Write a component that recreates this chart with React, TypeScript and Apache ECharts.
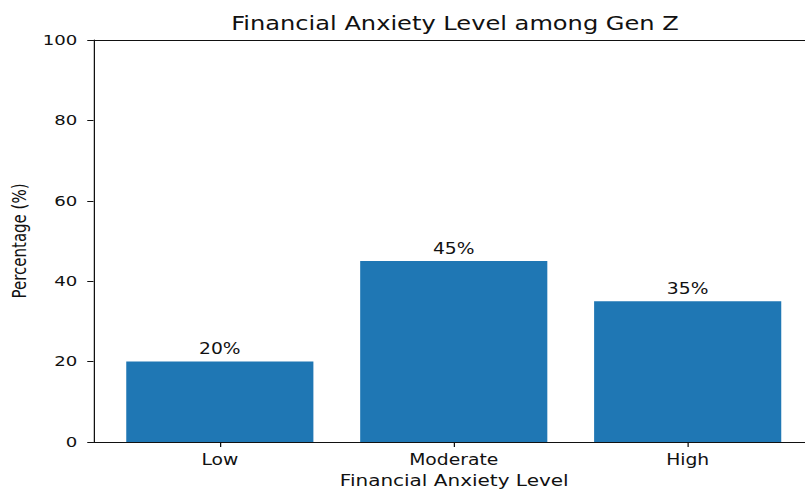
import React, { useEffect, useRef } from "react";
import * as echarts from "echarts";

const categories = ["Low", "Moderate", "High"];
const percentages = [20, 45, 35];
const yTicks = [0, 20, 40, 60, 80, 100];

const titleText = "Financial Anxiety Level among Gen Z";
const xAxisTitle = "Financial Anxiety Level";
const yAxisTitle = "Percentage (%)";

const SX = 1.25; // horizontal stretch of the reference image
const W = 805 / SX;
const H = 493;
const FONT = "DejaVu Sans";

export default function App() {
  const ref = useRef<HTMLDivElement>(null);
  useEffect(() => {
    if (!ref.current) return;
    const chart = echarts.init(ref.current, null, { renderer: "svg" });
    const gridLeft = 93.5 / SX;
    const fullWidth = (814 - 93.5) / SX; // plot width in the reference (cropped at the right)
    const gridWidth = W - gridLeft; // visible part
    const xMin = -0.54;
    const span = categories.length - 1 + 1.08;
    const xMax = xMin + (span * gridWidth) / fullWidth;
    const barW = (0.8 * fullWidth) / span;
    const txt = "#111";
    chart.setOption({
      animation: false,
      backgroundColor: "#ffffff",
      textStyle: { fontFamily: FONT },
      title: {
        text: titleText,
        left: gridLeft + fullWidth / 2 - 4,
        textAlign: "center",
        top: 9,
        textStyle: { fontFamily: FONT, fontSize: 19.3, fontWeight: "normal", color: txt },
      },
      grid: {
        left: gridLeft,
        top: 40,
        width: gridWidth,
        height: 402,
        show: false,
      },
      xAxis: [
        {
          type: "value",
          min: xMin,
          max: xMax,
          splitLine: { show: false },
          axisLine: { show: true, onZero: false, lineStyle: { color: txt, width: 1 } },
          axisTick: {
            show: true,
            customValues: categories.map((_, i) => i),
            length: 5,
            lineStyle: { color: txt },
          },
          axisLabel: {
            customValues: categories.map((_, i) => i),
            formatter: (v: number) => categories[Math.round(v)] ?? "",
            margin: 10,
            fontSize: 15,
            color: txt,
            fontFamily: FONT,
          },
          name: xAxisTitle,
          nameLocation: "middle",
          nameGap: 29,
          nameTextStyle: { fontSize: 16, color: txt, fontFamily: FONT, padding: [0, 0, 0, 8] },
        },
        {
          type: "value",
          position: "top",
          min: xMin,
          max: xMax,
          splitLine: { show: false },
          axisLine: { show: true, onZero: false, lineStyle: { color: txt, width: 1 } },
          axisTick: { show: false },
          axisLabel: { show: false },
        },
      ],
      yAxis: {
        type: "value",
        min: yTicks[0],
        max: yTicks[yTicks.length - 1],
        interval: 20,
        splitLine: { show: false },
        axisLine: { show: true, onZero: false, lineStyle: { color: txt, width: 1 } },
        axisTick: { show: true, length: 5, lineStyle: { color: txt } },
        axisLabel: {
          margin: 13,
          fontSize: 14.5,
          color: txt,
          fontFamily: FONT,
        },
        name: yAxisTitle,
        nameLocation: "middle",
        nameGap: 49,
        nameRotate: 90,
        nameTextStyle: { fontSize: 15, color: txt, fontFamily: FONT },
      },
      series: [
        {
          type: "bar",
          xAxisIndex: 0,
          data: percentages.map((v, i) => [i, v]),
          barWidth: barW,
          itemStyle: { color: "#1f77b4" },
          label: {
            show: true,
            position: "top",
            distance: 5,
            formatter: (p: any) => `${p.value[1]}%`,
            fontSize: 15,
            color: txt,
            fontFamily: FONT,
          },
        },
      ],
    });
    return () => chart.dispose();
  }, []);
  return (
    <div style={{ position: "absolute", left: 0, top: 0, width: 805, height: 493, overflow: "hidden" }}>
      <div
        ref={ref}
        style={{
          width: W,
          height: H,
          transform: `scaleX(${SX})`,
          transformOrigin: "0 0",
        }}
      />
    </div>
  );
}
